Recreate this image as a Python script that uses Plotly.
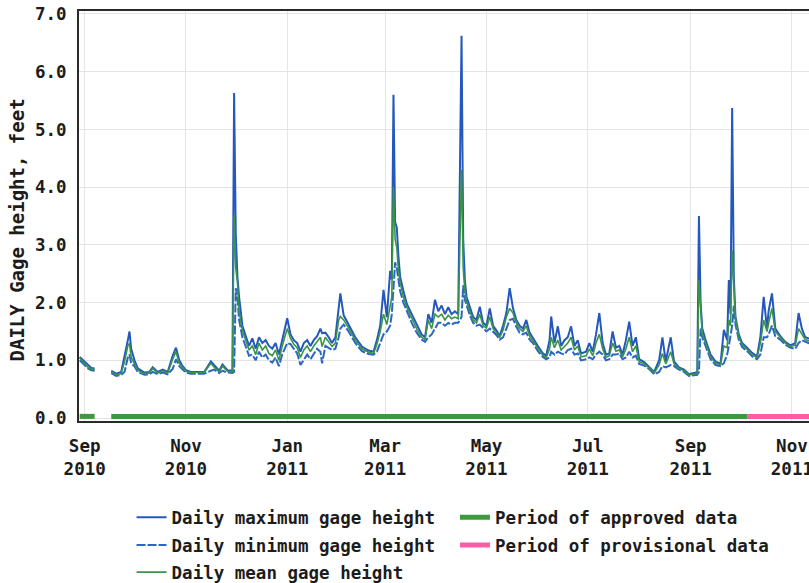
import plotly.graph_objects as go

# ---- daily gage height record (feet) ----
dates = [
    # Aug-Sep 2010 (gap in record mid-September)
    "2010-08-29", "2010-09-01", "2010-09-03", "2010-09-05", "2010-09-07", "2010-09-12", "2010-09-17",
    "2010-09-20", "2010-09-23", "2010-09-25", "2010-09-27", "2010-09-28", "2010-09-29",
    # Oct 2010
    "2010-10-01", "2010-10-03", "2010-10-07", "2010-10-10", "2010-10-12", "2010-10-15", "2010-10-18",
    "2010-10-21", "2010-10-24", "2010-10-26", "2010-10-28", "2010-10-30",
    # Nov 2010
    "2010-11-01", "2010-11-04", "2010-11-08", "2010-11-12", "2010-11-16", "2010-11-18", "2010-11-21",
    "2010-11-23", "2010-11-26", "2010-11-29", "2010-11-30",
    # Dec 2010
    "2010-12-01", "2010-12-02", "2010-12-03", "2010-12-05", "2010-12-07", "2010-12-09", "2010-12-11",
    "2010-12-13", "2010-12-15", "2010-12-17", "2010-12-19", "2010-12-21", "2010-12-23", "2010-12-25",
    "2010-12-27", "2010-12-29",
    # Jan 2011
    "2011-01-01", "2011-01-03", "2011-01-05", "2011-01-07", "2011-01-09", "2011-01-11", "2011-01-13",
    "2011-01-15", "2011-01-17", "2011-01-19", "2011-01-21", "2011-01-22", "2011-01-24", "2011-01-26",
    "2011-01-28", "2011-01-30",
    # Feb 2011
    "2011-02-01", "2011-02-02", "2011-02-04", "2011-02-07", "2011-02-11", "2011-02-15", "2011-02-19",
    "2011-02-22", "2011-02-24", "2011-02-26", "2011-02-28",
    # Mar 2011
    "2011-03-02", "2011-03-04", "2011-03-05", "2011-03-06", "2011-03-07", "2011-03-08", "2011-03-09",
    "2011-03-10", "2011-03-12", "2011-03-14", "2011-03-17", "2011-03-20", "2011-03-23", "2011-03-25",
    "2011-03-27", "2011-03-29", "2011-03-31",
    # Apr 2011
    "2011-04-02", "2011-04-04", "2011-04-06", "2011-04-08", "2011-04-10", "2011-04-12", "2011-04-14",
    "2011-04-16", "2011-04-17", "2011-04-18", "2011-04-19", "2011-04-21", "2011-04-23", "2011-04-25",
    "2011-04-27", "2011-04-29",
    # May 2011
    "2011-05-01", "2011-05-03", "2011-05-05", "2011-05-07", "2011-05-09", "2011-05-11", "2011-05-13",
    "2011-05-15", "2011-05-17", "2011-05-19", "2011-05-21", "2011-05-23", "2011-05-25", "2011-05-27",
    "2011-05-29",
    # Jun 2011
    "2011-06-01", "2011-06-04", "2011-06-06", "2011-06-08", "2011-06-09", "2011-06-11", "2011-06-13",
    "2011-06-15", "2011-06-17", "2011-06-19", "2011-06-21", "2011-06-23", "2011-06-25", "2011-06-27",
    "2011-06-30",
    # Jul 2011
    "2011-07-02", "2011-07-04", "2011-07-06", "2011-07-08", "2011-07-10", "2011-07-12", "2011-07-14",
    "2011-07-16", "2011-07-18", "2011-07-20", "2011-07-22", "2011-07-24", "2011-07-26", "2011-07-28",
    "2011-07-30",
    # Aug 2011
    "2011-08-01", "2011-08-04", "2011-08-07", "2011-08-10", "2011-08-13", "2011-08-15", "2011-08-17",
    "2011-08-20", "2011-08-22", "2011-08-25", "2011-08-28", "2011-08-31",
    # Sep 2011
    "2011-09-03", "2011-09-05", "2011-09-06", "2011-09-07", "2011-09-08", "2011-09-10", "2011-09-13",
    "2011-09-16", "2011-09-19", "2011-09-21", "2011-09-23", "2011-09-24", "2011-09-25", "2011-09-26",
    "2011-09-27", "2011-09-28", "2011-09-30",
    # Oct-Nov 2011
    "2011-10-02", "2011-10-05", "2011-10-08", "2011-10-11", "2011-10-13", "2011-10-15", "2011-10-17",
    "2011-10-18", "2011-10-20", "2011-10-22", "2011-10-25", "2011-10-28", "2011-10-31", "2011-11-03",
    "2011-11-05", "2011-11-07", "2011-11-09", "2011-11-11", "2011-11-13",
]

gage_max = [
    1.06, 0.98, 0.91, 0.87, 0.86, None, 0.82, 0.77, 0.80, 1.05, 1.35, 1.50, 1.20,
    1.00, 0.86, 0.79, 0.80, 0.88, 0.80, 0.84, 0.80, 1.08, 1.22, 1.00, 0.90,
    0.83, 0.80, 0.80, 0.80, 0.98, 0.92, 0.82, 0.93, 0.83, 0.82, 5.63,
    3.20, 2.45, 2.10, 1.60, 1.42, 1.25, 1.38, 1.20, 1.40, 1.30, 1.35, 1.25, 1.20, 1.30, 1.10, 1.35,
    1.73, 1.45, 1.35, 1.30, 1.15, 1.30, 1.35, 1.25, 1.35, 1.42, 1.55, 1.47, 1.48, 1.40, 1.30, 1.40,
    1.85, 2.16, 1.78, 1.62, 1.40, 1.24, 1.17, 1.15, 1.35, 1.60, 2.22,
    1.75, 2.55, 2.40, 5.60, 3.40, 3.30, 2.80, 2.45, 2.20, 1.98, 1.80, 1.62, 1.45, 1.40, 1.80, 1.65, 2.05,
    1.85, 1.95, 1.80, 1.92, 1.80, 1.85, 1.80, 6.62, 3.10, 2.39, 2.10, 1.92, 1.75, 1.70, 1.93, 1.65,
    1.60, 1.90, 1.60, 1.52, 1.42, 1.60, 1.82, 2.25, 1.90, 1.70, 1.60, 1.55, 1.70, 1.48, 1.38,
    1.25, 1.12, 1.08, 1.35, 1.76, 1.30, 1.59, 1.25, 1.35, 1.40, 1.59, 1.25, 1.35, 1.12, 1.15,
    1.30, 1.15, 1.45, 1.82, 1.30, 1.10, 1.12, 1.50, 1.22, 1.25, 1.10, 1.35, 1.67, 1.25, 1.40,
    1.02, 0.97, 0.89, 0.80, 1.00, 1.40, 0.98, 1.40, 0.98, 0.88, 0.84, 0.76,
    0.78, 0.80, 3.50, 2.00, 1.55, 1.35, 1.10, 0.98, 0.94, 1.53, 1.35, 2.39, 1.80, 5.37, 2.45, 1.75, 1.45,
    1.30, 1.22, 1.13, 1.07, 1.40, 2.10, 1.55, 1.86, 2.16, 1.55, 1.42, 1.32, 1.26, 1.30, 1.82, 1.55, 1.40,
    1.38, 1.36,
]

gage_mean = [
    1.04, 0.95, 0.88, 0.85, 0.84, None, 0.80, 0.75, 0.77, 0.98, 1.25, 1.30, 1.05,
    0.95, 0.83, 0.77, 0.78, 0.86, 0.78, 0.82, 0.78, 1.02, 1.15, 0.95, 0.87,
    0.81, 0.79, 0.79, 0.79, 0.95, 0.88, 0.80, 0.90, 0.81, 0.80, 3.50,
    2.60, 2.35, 1.85, 1.52, 1.36, 1.18, 1.25, 1.10, 1.30, 1.18, 1.25, 1.12, 1.08, 1.18, 1.00, 1.25,
    1.55, 1.38, 1.28, 1.22, 1.05, 1.18, 1.25, 1.15, 1.25, 1.32, 1.40, 1.24, 1.40, 1.32, 1.24, 1.30,
    1.70, 1.76, 1.70, 1.56, 1.35, 1.20, 1.14, 1.12, 1.28, 1.50, 1.80,
    1.62, 1.90, 2.10, 4.00, 3.10, 2.95, 2.55, 2.35, 2.10, 1.92, 1.72, 1.55, 1.40, 1.36, 1.70, 1.55, 1.80,
    1.75, 1.80, 1.70, 1.78, 1.72, 1.75, 1.72, 4.30, 2.60, 2.20, 2.02, 1.85, 1.70, 1.65, 1.80, 1.60,
    1.56, 1.75, 1.55, 1.48, 1.40, 1.52, 1.75, 1.90, 1.82, 1.65, 1.55, 1.50, 1.60, 1.42, 1.34,
    1.20, 1.09, 1.05, 1.20, 1.40, 1.22, 1.35, 1.18, 1.24, 1.30, 1.40, 1.18, 1.25, 1.06, 1.08,
    1.20, 1.08, 1.30, 1.45, 1.20, 1.05, 1.08, 1.30, 1.16, 1.18, 1.06, 1.20, 1.40, 1.15, 1.25,
    0.98, 0.94, 0.87, 0.78, 0.92, 1.12, 0.94, 1.15, 0.94, 0.86, 0.82, 0.75,
    0.76, 0.77, 2.40, 1.80, 1.47, 1.30, 1.06, 0.95, 0.92, 1.25, 1.22, 1.70, 1.60, 2.90, 2.20, 1.70, 1.41,
    1.27, 1.19, 1.10, 1.05, 1.30, 1.70, 1.50, 1.65, 1.90, 1.50, 1.40, 1.30, 1.24, 1.26, 1.55, 1.45, 1.36,
    1.34, 1.32,
]

gage_min = [
    1.00, 0.92, 0.86, 0.83, 0.82, None, 0.78, 0.73, 0.75, 0.80, 1.05, 1.10, 0.95,
    0.90, 0.80, 0.75, 0.76, 0.80, 0.76, 0.79, 0.76, 0.85, 1.02, 0.90, 0.84,
    0.79, 0.77, 0.77, 0.77, 0.82, 0.84, 0.78, 0.82, 0.79, 0.78, 0.80,
    2.25, 2.10, 1.70, 1.40, 1.25, 1.08, 1.10, 1.00, 1.15, 1.05, 1.10, 1.00, 0.96, 1.05, 0.90, 1.10,
    1.30, 1.28, 1.20, 1.12, 0.92, 1.00, 1.10, 1.02, 1.12, 1.20, 1.15, 0.95, 1.25, 1.22, 1.18, 1.20,
    1.40, 1.55, 1.62, 1.50, 1.30, 1.16, 1.11, 1.10, 1.15, 1.30, 1.45,
    1.50, 1.60, 1.80, 2.20, 2.70, 2.60, 2.35, 2.20, 2.00, 1.85, 1.65, 1.48, 1.36, 1.32, 1.40, 1.45, 1.55,
    1.65, 1.65, 1.60, 1.65, 1.62, 1.65, 1.65, 1.75, 2.30, 2.05, 1.95, 1.78, 1.65, 1.60, 1.62, 1.55,
    1.50, 1.55, 1.50, 1.44, 1.36, 1.40, 1.55, 1.70, 1.72, 1.58, 1.48, 1.45, 1.48, 1.36, 1.30,
    1.16, 1.06, 1.02, 1.05, 1.15, 1.10, 1.15, 1.12, 1.10, 1.18, 1.20, 1.10, 1.12, 1.00, 1.02,
    1.05, 1.02, 1.10, 1.15, 1.10, 1.00, 1.02, 1.10, 1.10, 1.12, 1.02, 1.05, 1.15, 1.05, 1.08,
    0.94, 0.91, 0.85, 0.76, 0.80, 0.90, 0.88, 0.92, 0.90, 0.84, 0.80, 0.73,
    0.74, 0.75, 0.80, 1.55, 1.40, 1.24, 1.02, 0.92, 0.90, 0.95, 1.10, 1.25, 1.40, 1.60, 1.95, 1.62, 1.36,
    1.23, 1.16, 1.07, 1.02, 1.10, 1.40, 1.40, 1.45, 1.60, 1.42, 1.36, 1.27, 1.22, 1.20, 1.30, 1.35, 1.32,
    1.30, 1.28,
]

assert len(dates) == len(gage_max) == len(gage_mean) == len(gage_min)

# data-quality periods (approved record has a gap in Sept 2010)
approved_dates = ["2010-08-29", "2010-09-07", None, "2010-09-17", "2011-10-05"]
provisional_dates = ["2011-10-05", "2011-11-13"]

tick_dates = ["2010-09-01", "2010-11-01", "2011-01-01", "2011-03-01",
              "2011-05-01", "2011-07-01", "2011-09-01", "2011-11-01"]
tick_labels = ["Sep<br>2010", "Nov<br>2010", "Jan<br>2011", "Mar<br>2011",
               "May<br>2011", "Jul<br>2011", "Sep<br>2011", "Nov<br>2011"]

FONT = "DejaVu Sans Mono"
TXT = "#1c1c1c"
FS = 17.5

fig = go.Figure()

# quality-period bars along the bottom
fig.add_trace(go.Scatter(
    x=approved_dates, y=[0.03 if d else None for d in approved_dates],
    mode="lines", line=dict(color="#3b9a3b", width=5),
    name="Period of approved data", legend="legend4",
    connectgaps=False, hoverinfo="skip"))
fig.add_trace(go.Scatter(
    x=provisional_dates, y=[0.03] * len(provisional_dates),
    mode="lines", line=dict(color="#ff5ca6", width=5),
    name="Period of provisional data", legend="legend5",
    hoverinfo="skip"))

# gage-height series
fig.add_trace(go.Scatter(
    x=dates, y=gage_max, mode="lines", connectgaps=False,
    line=dict(color="#2458bd", width=2),
    name="Daily maximum gage height", legend="legend"))
fig.add_trace(go.Scatter(
    x=dates, y=gage_min, mode="lines", connectgaps=False,
    line=dict(color="#2a66c4", width=2, dash="9px,2px"),
    name="Daily minimum gage height", legend="legend2"))
fig.add_trace(go.Scatter(
    x=dates, y=gage_mean, mode="lines", connectgaps=False,
    line=dict(color="#3a9448", width=1.6),
    name="Daily mean gage height", legend="legend3"))

legend_common = dict(
    orientation="v", xanchor="left", yanchor="top",
    font=dict(family=FONT, size=FS, color=TXT, weight="bold"),
    bgcolor="rgba(0,0,0,0)", borderwidth=0,
)

# one legend box per entry: two columns, three rows
COL1, COL2 = 0.072, 0.515
ROW1, ROW2, ROW3 = -0.191, -0.259, -0.325

fig.update_layout(
    width=809, height=583,
    margin=dict(l=79, r=0, t=11, b=162, autoexpand=False),
    paper_bgcolor="white", plot_bgcolor="white",
    font=dict(family=FONT, size=FS, color=TXT, weight="bold"),
    showlegend=True,
    legend=dict(x=COL1, y=ROW1, **legend_common),
    legend2=dict(x=COL1, y=ROW2, **legend_common),
    legend3=dict(x=COL1, y=ROW3, **legend_common),
    legend4=dict(x=COL2, y=ROW1, **legend_common),
    legend5=dict(x=COL2, y=ROW2, **legend_common),
    xaxis=dict(
        type="date", automargin=False,
        range=["2010-08-28 14:00", "2011-11-11 07:00"],
        tickmode="array", tickvals=tick_dates, ticktext=tick_labels,
        showgrid=True, gridcolor="#e4e4e4", gridwidth=1,
        showline=True, linecolor="#2a2a2a", linewidth=2, mirror=True,
        ticks="", ticklabelstandoff=8, ticklabeloverflow="allow", zeroline=False,
        tickfont=dict(family=FONT, size=FS, color=TXT, weight="bold"),
    ),
    yaxis=dict(
        automargin=False,
        range=[-0.05, 7.05],
        tickmode="linear", tick0=0, dtick=1, tickformat=".1f",
        showgrid=True, gridcolor="#e4e4e4", gridwidth=1,
        showline=True, linecolor="#2a2a2a", linewidth=2, mirror=False,
        ticks="", ticklabelstandoff=7, zeroline=False,
        tickfont=dict(family=FONT, size=FS, color=TXT, weight="bold"),
    ),
    annotations=[dict(
        text="DAILY Gage height, feet", textangle=-90,
        xref="paper", yref="paper", x=-0.085, y=0.467,
        xanchor="center", yanchor="middle", showarrow=False,
        font=dict(family=FONT, size=19, color=TXT, weight="bold"),
    )],
)

fig.write_html("out.html", config={"displayModeBar": False})
